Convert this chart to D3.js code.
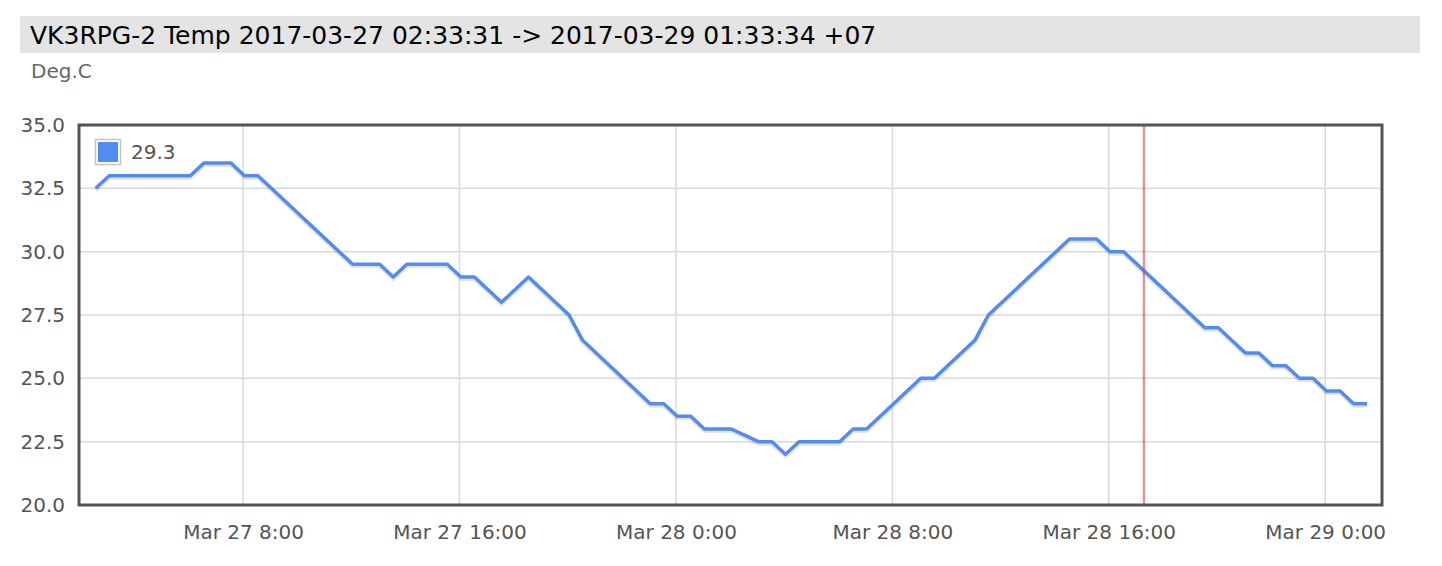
<!DOCTYPE html>
<html>
<head>
<meta charset="utf-8">
<script src="https://cdn.jsdelivr.net/npm/d3@7"></script>
<style>
  body { margin: 0; background: #fff; font-family: "DejaVu Sans", Verdana, sans-serif; }
</style>
</head>
<body>
<div class="chart"></div>
<script>
// readings (local time, +07)
var times = [
    '03-27 02:33', '03-27 03:03', '03-27 06:03', '03-27 06:33', '03-27 07:33', '03-27 08:03',
    '03-27 08:33', '03-27 12:03', '03-27 13:03', '03-27 13:33', '03-27 14:03', '03-27 15:33',
    '03-27 16:03', '03-27 16:33', '03-27 17:33', '03-27 18:33', '03-27 20:03', '03-27 20:33',
    '03-27 23:03', '03-27 23:33', '03-28 00:03', '03-28 00:33', '03-28 01:03', '03-28 02:03',
    '03-28 03:03', '03-28 03:33', '03-28 04:03', '03-28 04:33', '03-28 06:03', '03-28 06:33',
    '03-28 07:03', '03-28 09:03', '03-28 09:33', '03-28 11:03', '03-28 11:33', '03-28 14:33',
    '03-28 15:33', '03-28 16:03', '03-28 16:33', '03-28 19:33', '03-28 20:03', '03-28 21:03',
    '03-28 21:33', '03-28 22:03', '03-28 22:33', '03-28 23:03', '03-28 23:33', '03-29 00:03',
    '03-29 00:33', '03-29 01:03', '03-29 01:33'
];
var temps = [
    32.5, 33, 33, 33.5, 33.5, 33,
    33, 29.5, 29.5, 29, 29.5, 29.5,
    29, 29, 28, 29, 27.5, 26.5,
    24, 24, 23.5, 23.5, 23, 23,
    22.5, 22.5, 22, 22.5, 22.5, 23,
    23, 25, 25, 26.5, 27.5, 30.5,
    30.5, 30, 30, 27, 27, 26,
    26, 25.5, 25.5, 25, 25, 24.5,
    24.5, 24, 24
];
var yTicks = [20, 22.5, 25, 27.5, 30, 32.5, 35];
var xDomain = ['03-27 01:56', '03-29 02:06'];
var crosshairTime = '03-28 17:18';
var legendValue = '29.3';
var titleText = 'VK3RPG-2 Temp 2017-03-27 02:33:31 -> 2017-03-29 01:33:34 +07';
var unitText = 'Deg.C';

var W = 1442, H = 566;
var plot = { left: 79, right: 1382, top: 125, bottom: 505 };

var parse = d3.utcParse('%Y-%m-%d %H:%M');
var toDate = s => parse('2017-' + s);
var data = times.map((t, i) => ({ t: toDate(t), v: temps[i] }));

var svg = d3.select('.chart')
    .append('svg')
    .attr('width', W)
    .attr('height', H)
    .style('font-family', '"DejaVu Sans", Verdana, sans-serif');

// title bar
svg.append('rect')
    .attr('x', 20).attr('y', 16)
    .attr('width', 1400).attr('height', 37)
    .attr('fill', '#e4e4e4');
svg.append('text')
    .attr('x', 30).attr('y', 44)
    .style('font-size', '25px')
    .attr('fill', '#000')
    .text(titleText);
svg.append('text')
    .attr('x', 31).attr('y', 78)
    .style('font-size', '20px')
    .attr('fill', '#666')
    .text(unitText);

var xScale = d3.scaleUtc()
    .domain(xDomain.map(toDate))
    .range([plot.left, plot.right]);
var yScale = d3.scaleLinear()
    .domain([20, 35])
    .range([plot.bottom, plot.top]);

var xTicks = d3.utcHour.every(8).range(xScale.domain()[0], xScale.domain()[1]);
var fmt = d3.utcFormat('%b %-d %-H:%M');

// grid
var grid = svg.append('g').attr('stroke', '#dadada').attr('stroke-width', 1.5);
grid.selectAll('.gy')
    .data(yTicks)
    .enter()
    .append('line')
    .attr('x1', plot.left).attr('x2', plot.right)
    .attr('y1', d => yScale(d)).attr('y2', d => yScale(d));
grid.selectAll('.gx')
    .data(xTicks)
    .enter()
    .append('line')
    .attr('y1', plot.top).attr('y2', plot.bottom)
    .attr('x1', d => xScale(d)).attr('x2', d => xScale(d));

// y axis labels
var yAxis = d3.axisLeft(yScale)
    .tickValues(yTicks)
    .tickSize(0)
    .tickPadding(14)
    .tickFormat(d3.format('.1f'));
svg.append('g')
    .attr('transform', `translate(${plot.left}, 0)`)
    .call(yAxis)
    .call(g => g.select('.domain').remove())
    .call(g => g.selectAll('text')
        .style('font-size', '20px')
        .style('font-family', '"DejaVu Sans", Verdana, sans-serif')
        .attr('fill', '#545454'));

// x axis labels
var xAxis = d3.axisBottom(xScale)
    .tickValues(xTicks)
    .tickSize(0)
    .tickPadding(20)
    .tickFormat(fmt);
svg.append('g')
    .attr('transform', `translate(0, ${plot.bottom})`)
    .call(xAxis)
    .call(g => g.select('.domain').remove())
    .call(g => g.selectAll('text')
        .style('font-size', '20px')
        .style('font-family', '"DejaVu Sans", Verdana, sans-serif')
        .attr('fill', '#545454'));

// series
var line = d3.line()
    .x(d => xScale(d.t))
    .y(d => yScale(d.v));

svg.append('path')
    .datum(data)
    .attr('d', line)
    .attr('transform', 'translate(0, 2)')
    .attr('fill', 'none')
    .attr('stroke', 'rgba(0,0,0,0.1)')
    .attr('stroke-width', 4)
    .attr('stroke-linejoin', 'round');

svg.append('path')
    .datum(data)
    .attr('d', line)
    .attr('fill', 'none')
    .attr('stroke', '#528cf0')
    .attr('stroke-width', 3.5)
    .attr('stroke-linejoin', 'round');

// crosshair
var cx = xScale(toDate(crosshairTime));
svg.append('line')
    .attr('x1', cx).attr('x2', cx)
    .attr('y1', plot.top).attr('y2', plot.bottom)
    .attr('stroke', 'rgba(205, 60, 70, 0.55)')
    .attr('stroke-width', 2.5);

// border
svg.append('rect')
    .attr('x', plot.left).attr('y', plot.top)
    .attr('width', plot.right - plot.left)
    .attr('height', plot.bottom - plot.top)
    .attr('fill', 'none')
    .attr('stroke', '#545454')
    .attr('stroke-width', 3);

// legend
var legend = svg.append('g').attr('transform', 'translate(95, 139)');
legend.append('rect')
    .attr('x', 0.5).attr('y', 0.5)
    .attr('width', 25).attr('height', 25)
    .attr('fill', '#fff')
    .attr('stroke', '#c4c4c4')
    .attr('stroke-width', 1.5);
legend.append('rect')
    .attr('x', 3).attr('y', 3)
    .attr('width', 20).attr('height', 20)
    .attr('fill', '#528cf0');
legend.append('text')
    .attr('x', 36).attr('y', 20)
    .style('font-size', '20px')
    .attr('fill', '#545454')
    .text(legendValue);
</script>
</body>
</html>
